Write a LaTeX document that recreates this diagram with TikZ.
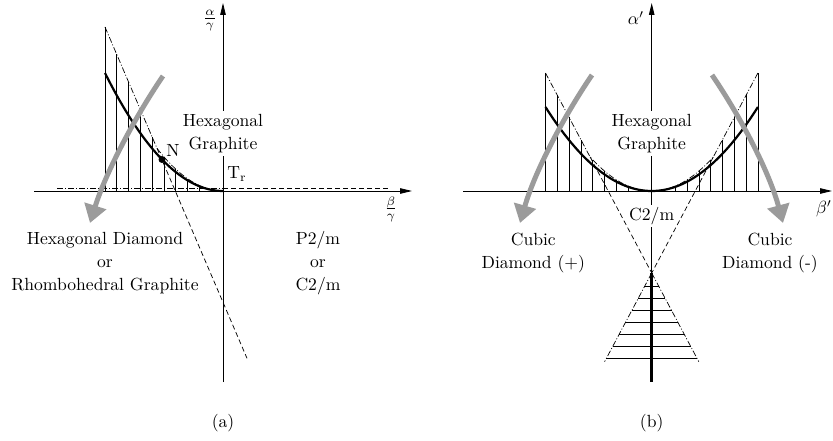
\documentclass[tikz,border=0pt]{standalone}
\usetikzlibrary{arrows.meta}
\definecolor{arrowgray}{RGB}{155,155,155}
\tikzset{
  lbl/.style={font=\fontsize{10}{13.35}\selectfont, inner sep=0pt, scale=1.76},
  axisline/.style={line width=0.8pt, -{Triangle[length=12pt,width=5.5pt]}},
  thickcurve/.style={line width=2.2pt},
  dashdot/.style={line width=0.7pt, dash pattern=on 6pt off 2pt on 1pt off 2pt},
  dashline/.style={line width=0.7pt, dash pattern=on 5pt off 3pt},
  grayarrow/.style={arrowgray, line width=5pt, -{Triangle[length=18pt,width=22pt]}},
  hatchline/.style={line width=0.7pt},
}
\begin{document}
\begin{tikzpicture}[x=1pt,y=-1pt]
\useasboundingbox (0,0) rectangle (833,441);

% ================= panel (a) =================
\coordinate (Oa) at (223,191);
% hatching
\foreach \hx/\hy in {105/27, 116.8/54.5, 128.6/82.1, 140.4/109.6, 152.2/137.1, 164/156.9, 175.8/169.1, 187.6/178.7, 199.4/185.5, 211.2/189.6}
  \draw[hatchline] (\hx,191) -- (\hx,\hy);
% dash-dot boundary: straight line then parabola
\coordinate (Sa) at (157,148.3);
\draw[dashdot] (105,27) -- (Sa) .. controls (179,176.8) and (201,191) .. (Oa);
\draw[dashline] (Sa) -- (247,358.3);
% horizontal line slightly above the axis
\draw[dashdot] (57,188) -- (223,188);
\draw[dashline] (223,188) -- (388,188);
% thick parabola
\draw[thickcurve] (105,73) .. controls (144.3,151.7) and (183.7,191) .. (Oa);
% axes
\draw[axisline] (34,191) -- (412,191);
\draw[axisline] (223,382) -- (223,3);
% point N
\fill (162,159.5) circle (3.5pt);
\node[lbl, anchor=base] (labN) at (173,157) {N};
\node[lbl, anchor=base west] (labT) at (227,178.5) {T$_\mathrm{r}$};
\node[lbl] (aya) at (210,20.5) {$\frac{\alpha}{\gamma}$};
\node[lbl] (axa) at (391,209) {$\frac{\beta}{\gamma}$};
\node[lbl, align=center, fill=white, inner sep=1.7pt] (hga) at (223,133.4) {Hexagonal\\Graphite};
\node[lbl, align=center] (hd) at (105,263.1) {Hexagonal Diamond\\or\\Rhombohedral Graphite};
\node[lbl, align=center] (p2m) at (318,263.1) {P2/m\\or\\C2/m};
\node[lbl] (capa) at (223,422.7) {(a)};
\draw[grayarrow] (163,76) .. controls (135,117) and (106,172) .. (90,223);

% ================= panel (b) =================
\coordinate (Ob) at (651.7,191);
\coordinate (Ab) at (651.7,273);
\foreach \hy [count=\k] in {189.75, 186, 179.8, 171, 159.8, 139.7, 117.4, 95.2, 73}{
  \draw[hatchline] (651.7-11.8*\k,191) -- (651.7-11.8*\k,\hy);
  \draw[hatchline] (651.7+11.8*\k,191) -- (651.7+11.8*\k,\hy);
}
% dash-dot boundaries
\coordinate (SbL) at (590.1,157);
\coordinate (SbR) at (713.3,157);
\draw[dashdot] (545.5,73) -- (SbL) .. controls (610.6,179.7) and (631.2,191) .. (Ob);
\draw[dashdot] (757.9,73) -- (SbR) .. controls (692.8,179.7) and (672.2,191) .. (Ob);
\draw[dashline] (SbL) -- (Ab);
\draw[dashline] (SbR) -- (Ab);
\draw[dashdot] (Ab) -- (698.8,361.7);
\draw[dashdot] (Ab) -- (604.6,361.7);
% triangle hatching
\foreach \ty/\tw in {286.7/7.3, 298.6/13.6, 310.6/20.0, 322.5/26.3, 334.4/32.6, 346.4/39.0, 358.3/45.3}
  \draw[hatchline] (651.7-\tw,\ty) -- (651.7+\tw,\ty);
% thick parabola
\draw[thickcurve] (545.5,107) .. controls (580.9,163) and (616.3,191) .. (Ob)
                  .. controls (687.1,191) and (722.5,163) .. (757.9,107);
% axes
\draw[axisline] (463,191) -- (832,191);
\draw[axisline] (Ab) -- (651.7,3);
\draw[line width=3pt] (Ab) -- (651.7,382);
\node[lbl] (ayb) at (636,18) {$\alpha'$};
\node[lbl] (axb) at (824,209) {$\beta'$};
\node[lbl, align=center, fill=white, inner sep=1.7pt] (hgb) at (651.7,133.4) {Hexagonal\\Graphite};
\node[lbl, fill=white, inner sep=1.2pt] (c2m) at (651.7,216.1) {C2/m};
\node[lbl, align=center] (cdp) at (533.3,253.1) {Cubic\\Diamond (+)};
\node[lbl, align=center] (cdm) at (770,253.1) {Cubic\\Diamond (-)};
\node[lbl] (capb) at (651.7,422.7) {(b)};
\draw[grayarrow] (592,75) .. controls (564,116) and (535,171) .. (520,223);
\draw[grayarrow] (712,75) .. controls (740,116) and (769,171) .. (783,223);
\end{tikzpicture}
\end{document}
